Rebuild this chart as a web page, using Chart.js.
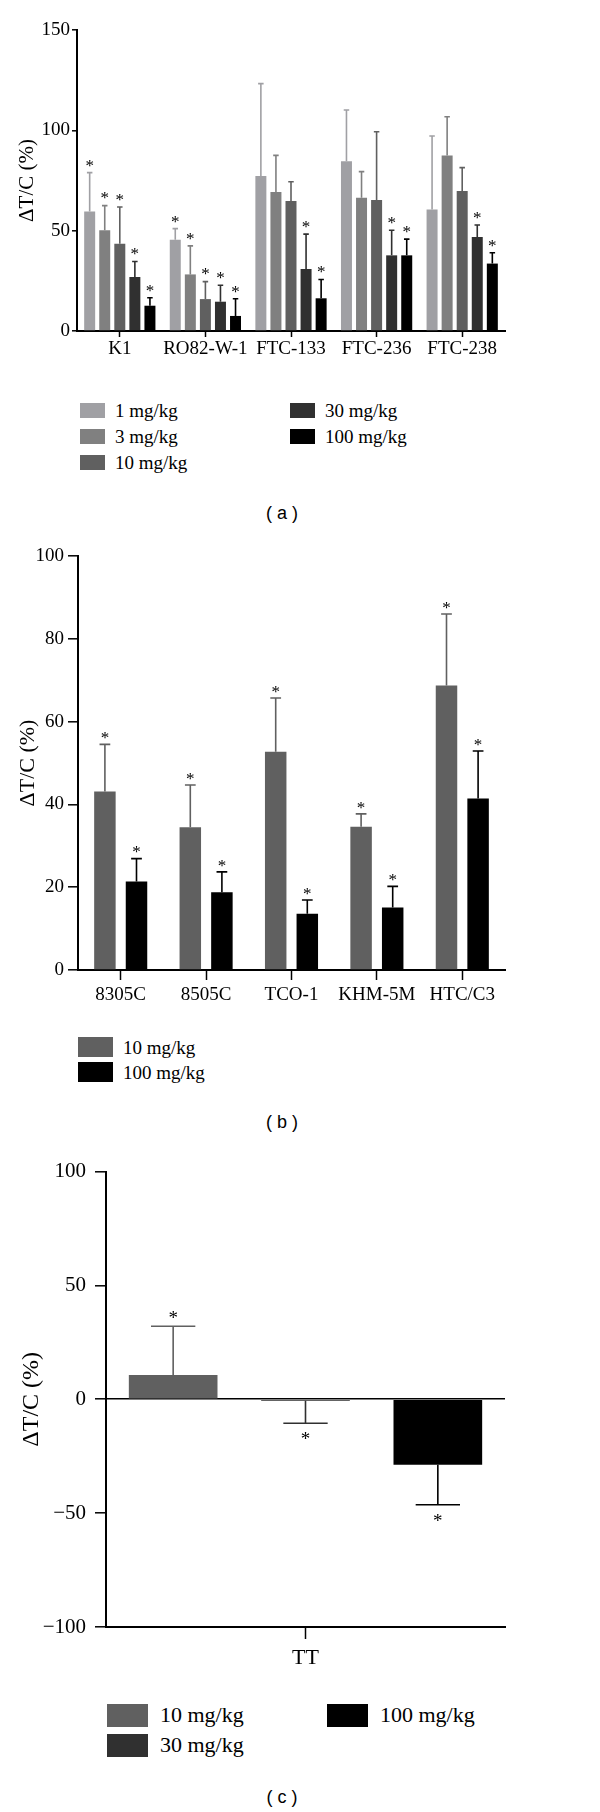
<!DOCTYPE html>
<html>
<head>
<meta charset="utf-8">
<script src="https://cdn.jsdelivr.net/npm/chart.js@4.4.0/dist/chart.umd.min.js"></script>
<style>
    body { margin: 0; background: #fff; width: 600px; height: 1812px; position: relative; overflow: hidden; }
    canvas { position: absolute; left: 0; }
    .caption { position: absolute; font-family: "Liberation Sans", Arial, sans-serif; font-size: 18px; transform: translate(-50%, -50%); white-space: pre; }
</style>
</head>
<body>
<canvas id="chartA" width="600" height="380" style="top:0px"></canvas>
<canvas id="chartB" width="600" height="480" style="top:540px"></canvas>
<canvas id="chartC" width="600" height="530" style="top:1150px"></canvas>
<div class="caption" style="left:282px;top:513px">( a )</div>
<div class="caption" style="left:282px;top:1122px">( b )</div>
<div class="caption" style="left:282px;top:1797px">( c )</div>
<script>
// panel (a): differentiated lines
const linesA = ["K1", "RO82-W-1", "FTC-133", "FTC-236", "FTC-238"];
const dosesA = ["1 mg/kg", "3 mg/kg", "10 mg/kg", "30 mg/kg", "100 mg/kg"];
const colorsA = ["#a0a0a4", "#808080", "#606060", "#303030", "#000000"];
const a1 = [59.5, 45.5, 77.2, 84.6, 60.6];
const a3 = [50.2, 28.2, 69.3, 66.4, 87.5];
const a10 = [43.5, 15.9, 64.8, 65.3, 69.8];
const a30 = [26.9, 14.6, 30.9, 37.7, 46.8];
const a100 = [12.6, 7.5, 16.3, 37.7, 33.6];
const a1Sd = [19.4, 5.5, 46.1, 25.5, 36.6];
const a3Sd = [12.3, 14.2, 18.2, 13.0, 19.3];
const a10Sd = [18.3, 8.7, 9.6, 34.0, 11.6];
const a30Sd = [7.7, 8.2, 17.4, 12.5, 6.0];
const a100Sd = [4.0, 8.6, 9.4, 8.1, 5.4];
const a1Star = [1, 1, 0, 0, 0];
const a3Star = [1, 1, 0, 0, 0];
const a10Star = [1, 1, 0, 0, 0];
const a30Star = [1, 1, 1, 1, 1];
const a100Star = [1, 1, 1, 1, 1];

// panel (b): anaplastic lines
const linesB = ["8305C", "8505C", "TCO-1", "KHM-5M", "HTC/C3"];
const dosesB = ["10 mg/kg", "100 mg/kg"];
const colorsB = ["#606060", "#000000"];
const b10 = [43.1, 34.5, 52.7, 34.6, 68.7];
const b100 = [21.4, 18.8, 13.6, 15.1, 41.4];
const b10Sd = [11.4, 10.2, 13.0, 3.1, 17.3];
const b100Sd = [5.5, 4.9, 3.3, 5.1, 11.5];
const b10Star = [1, 1, 1, 1, 1];
const b100Star = [1, 1, 1, 1, 1];

// panel (c): TT
const linesC = ["TT"];
const dosesC = ["10 mg/kg", "30 mg/kg", "100 mg/kg"];
const colorsC = ["#606060", "#303030", "#000000"];
const c10 = [10.7];
const c30 = [-0.6];
const c100 = [-28.7];
const c10Sd = [21.4];
const c30Sd = [9.9];
const c100Sd = [17.6];
const cStar = [1];

const serif = "'Liberation Serif', 'Times New Roman', serif";

// draws upper (or lower for negative bars) error bars and the stars
const errorBarPlugin = {
    id: "errorBars",
    afterDatasetsDraw(chart, args, opts) {
        const ctx = chart.ctx;
        const yScale = chart.scales.y;
        chart.data.datasets.forEach((ds, di) => {
            const meta = chart.getDatasetMeta(di);
            meta.data.forEach((bar, i) => {
                const v = ds.data[i];
                const dir = v < 0 ? -1 : 1;
                const yBase = yScale.getPixelForValue(v);
                const yEnd = yScale.getPixelForValue(v + dir * ds.sd[i]);
                const half = bar.width * 0.25;
                ctx.save();
                ctx.strokeStyle = ds.backgroundColor;
                ctx.lineWidth = opts.lineWidth;
                ctx.beginPath();
                ctx.moveTo(bar.x, yBase);
                ctx.lineTo(bar.x, yEnd);
                ctx.moveTo(bar.x - half, yEnd);
                ctx.lineTo(bar.x + half, yEnd);
                ctx.stroke();
                if (ds.stars[i]) {
                    ctx.fillStyle = "#000";
                    ctx.font = opts.starSize + "px " + serif;
                    ctx.textAlign = "center";
                    ctx.textBaseline = "alphabetic";
                    const cy = yEnd - dir * opts.starGap;
                    ctx.fillText("*", bar.x, cy + opts.starSize * 0.52);
                }
                ctx.restore();
            });
        });
    }
};

function makeDatasets(labels, colors, values, sds, stars, catPct, barPct) {
    return labels.map((label, i) => ({
        label: label,
        data: values[i],
        sd: sds[i],
        stars: stars[i],
        backgroundColor: colors[i],
        borderWidth: 0,
        categoryPercentage: catPct,
        barPercentage: barPct,
    }));
}

function makeChart(id, categories, datasets, cfg) {
    const ctx = document.getElementById(id).getContext("2d");
    return new Chart(ctx, {
        type: "bar",
        data: { labels: categories, datasets: datasets },
        plugins: [errorBarPlugin],
        options: {
            responsive: false,
            animation: false,
            layout: { padding: { top: cfg.padTop, right: 95, bottom: 0, left: 0 } },
            plugins: {
                legend: { display: false },
                tooltip: { enabled: false },
                errorBars: { lineWidth: 1.6, starSize: cfg.starSize, starGap: cfg.starGap },
            },
            scales: {
                x: {
                    afterFit: (scale) => { scale.height = cfg.xHeight; },
                    grid: {
                        offset: false,
                        drawOnChartArea: false,
                        tickLength: cfg.xTick,
                        tickColor: "#000",
                        tickWidth: 1.5,
                    },
                    border: { color: "#000", width: 2 },
                    ticks: {
                        color: "#000",
                        padding: cfg.xPad,
                        maxRotation: 0,
                        autoSkip: false,
                        font: { family: serif, size: cfg.xFont },
                    },
                },
                y: {
                    min: cfg.min,
                    max: cfg.max,
                    afterFit: (scale) => { scale.width = cfg.yWidth; },
                    grid: {
                        drawOnChartArea: !!cfg.zeroLine,
                        color: (c) => (cfg.zeroLine && c.tick && c.tick.value === 0 ? "#000" : "rgba(0,0,0,0)"),
                        lineWidth: 1.6,
                        tickLength: cfg.yTick,
                        tickColor: "#000",
                        tickWidth: 1.5,
                    },
                    border: { color: "#000", width: 2 },
                    ticks: {
                        stepSize: cfg.step,
                        color: "#000",
                        padding: cfg.yPad,
                        font: { family: serif, size: cfg.yFont },
                        callback: (v) => String(v).replace("-", "\u2212"),
                    },
                    title: {
                        display: true,
                        text: "\u0394T/C (%)",
                        color: "#000",
                        font: { family: serif, size: cfg.titleFont },
                        padding: { top: cfg.titlePad, bottom: 0 },
                    },
                },
            },
        },
    });
}

function addLegend(labels, colors, slots, sw) {
    labels.forEach((label, i) => {
        const s = slots[i];
        const box = document.createElement("div");
        box.style.cssText = `position:absolute;left:${s[0]}px;top:${s[1] - sw.h / 2}px;width:${sw.w}px;height:${sw.h}px;background:${colors[i]}`;
        document.body.appendChild(box);
        const text = document.createElement("div");
        text.textContent = label;
        text.style.cssText = `position:absolute;left:${s[0] + sw.gap}px;top:${s[1]}px;transform:translateY(-50%);font-family:${serif};font-size:${sw.font}px;line-height:1;white-space:nowrap;color:#000`;
        document.body.appendChild(text);
    });
}

makeChart("chartA", linesA,
    makeDatasets(dosesA, colorsA,
        [a1, a3, a10, a30, a100],
        [a1Sd, a3Sd, a10Sd, a30Sd, a100Sd],
        [a1Star, a3Star, a10Star, a30Star, a100Star], 0.88, 0.73),
    { padTop: 30, xHeight: 49, yWidth: 77, min: 0, max: 150, step: 50,
      xTick: 6, xPad: 1, yTick: 5, yPad: 2, xFont: 19, yFont: 19,
      titleFont: 21, titlePad: 15, starSize: 17, starGap: 11 });

makeChart("chartB", linesB,
    makeDatasets(dosesB, colorsB,
        [b10, b100], [b10Sd, b100Sd], [b10Star, b100Star], 0.74, 0.68),
    { padTop: 16, xHeight: 50, yWidth: 78, min: 0, max: 100, step: 20,
      xTick: 10, xPad: 4, yTick: 10, yPad: 4, xFont: 19, yFont: 19,
      titleFont: 22, titlePad: 15, starSize: 17, starGap: 10 });

makeChart("chartC", linesC,
    makeDatasets(dosesC, colorsC,
        [c10, c30, c100], [c10Sd, c30Sd, c100Sd], [cStar, cStar, cStar], 0.995, 0.67),
    { padTop: 19, xHeight: 53, yWidth: 106, min: -100, max: 100, step: 50,
      xTick: 12, xPad: 6, yTick: 11, yPad: 9, xFont: 22, yFont: 21,
      titleFont: 24, titlePad: 17, starSize: 19, starGap: 12, zeroLine: true });

addLegend(dosesA, colorsA, [[80, 410], [80, 436], [80, 462], [290, 410], [290, 436]],
    { w: 25, h: 15, gap: 35, font: 19 });
addLegend(dosesB, colorsB, [[78, 1047], [78, 1072]],
    { w: 35, h: 20, gap: 45, font: 19 });
addLegend(dosesC, colorsC, [[107, 1715], [107, 1745], [327, 1715]],
    { w: 41, h: 23, gap: 53, font: 22 });
</script>
</body>
</html>
